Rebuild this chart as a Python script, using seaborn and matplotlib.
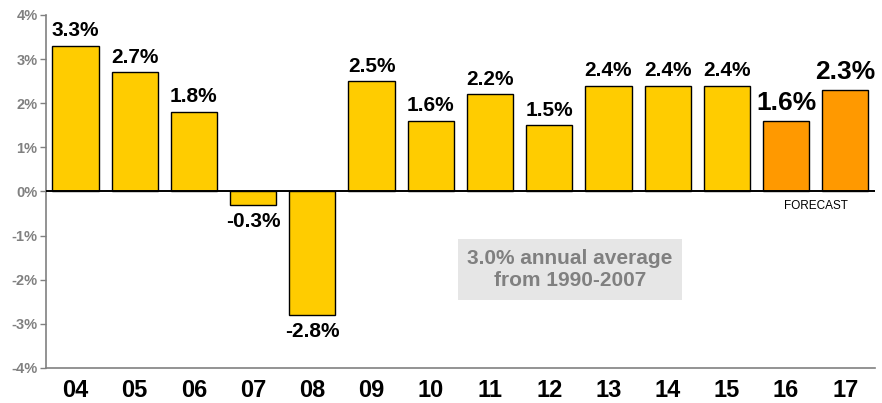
import numpy as np
import pandas as pd
import matplotlib
matplotlib.use('Agg')
import matplotlib.pyplot as plt
import seaborn as sns

# ------------- data -------------
years = ['04', '05', '06', '07', '08', '09', '10', '11', '12', '13', '14', '15', '16', '17']
growth = [3.3, 2.7, 1.8, -0.3, -2.8, 2.5, 1.6, 2.2, 1.5, 2.4, 2.4, 2.4, 1.6, 2.3]
kind = ['actual'] * 12 + ['forecast'] * 2

YELLOW = '#FFCC00'
ORANGE = '#FF9900'
GREY = '#808080'

sns.set_theme(style='white')
plt.rcParams['font.family'] = ['Liberation Sans', 'DejaVu Sans']
plt.rcParams['text.color'] = 'black'
plt.rcParams['xtick.color'] = 'black'

df = pd.DataFrame({'year': years, 'growth': growth, 'kind': kind})

fig = plt.figure(figsize=(8.82, 4.03), dpi=100)
ax = fig.add_axes([0.052, 0.087, 0.94, 0.876])

sns.barplot(data=df, x='year', y='growth', hue='kind',
            palette={'actual': YELLOW, 'forecast': ORANGE}, saturation=1,
            dodge=False, width=0.78, edgecolor='black', linewidth=1.0,
            legend=False, ax=ax)

ax.set_ylim(-4, 4)
ax.set_xlim(-0.5, len(years) - 0.5)
ax.set_yticks(range(-4, 5))
ax.set_yticklabels([f'{v}%' for v in range(-4, 5)], color=GREY,
                   fontsize=10.5, fontweight='bold')
ax.tick_params(axis='y', left=True, length=4, width=1, color=GREY, pad=2)
ax.tick_params(axis='x', bottom=False, labelsize=17, pad=2, labelcolor='black')
for t in ax.get_xticklabels():
    t.set_fontweight('bold')
ax.set_xlabel('')
ax.set_ylabel('')

for s in ['top', 'right']:
    ax.spines[s].set_visible(False)
for s in ['left', 'bottom']:
    ax.spines[s].set_color(GREY)
    ax.spines[s].set_linewidth(1.2)

ax.axhline(0, color='black', linewidth=1.4, zorder=5)

# value labels
for i, (v, k) in enumerate(zip(growth, kind)):
    size = 19 if k == 'forecast' else 15
    if v >= 0:
        ax.annotate(f'{v}%', (i, v), xytext=(0, 4), textcoords='offset points',
                    ha='center', va='bottom', fontsize=size, fontweight='bold',
                    color='black')
    else:
        ax.annotate(f'{v}%', (i, v), xytext=(0, -5), textcoords='offset points',
                    ha='center', va='top', fontsize=size, fontweight='bold',
                    color='black')

ax.text(12.5, -0.2, 'FORECAST', ha='center', va='top', fontsize=8.5, color='black')

ax.text(8.35, -1.77, '3.0% annual average\nfrom 1990-2007', ha='center', va='center',
        fontsize=15, fontweight='bold', color=GREY, linespacing=1.25,
        bbox=dict(boxstyle='square,pad=0.45', facecolor='#E6E6E6', edgecolor='none'))

fig.savefig('out.png', dpi=100)
